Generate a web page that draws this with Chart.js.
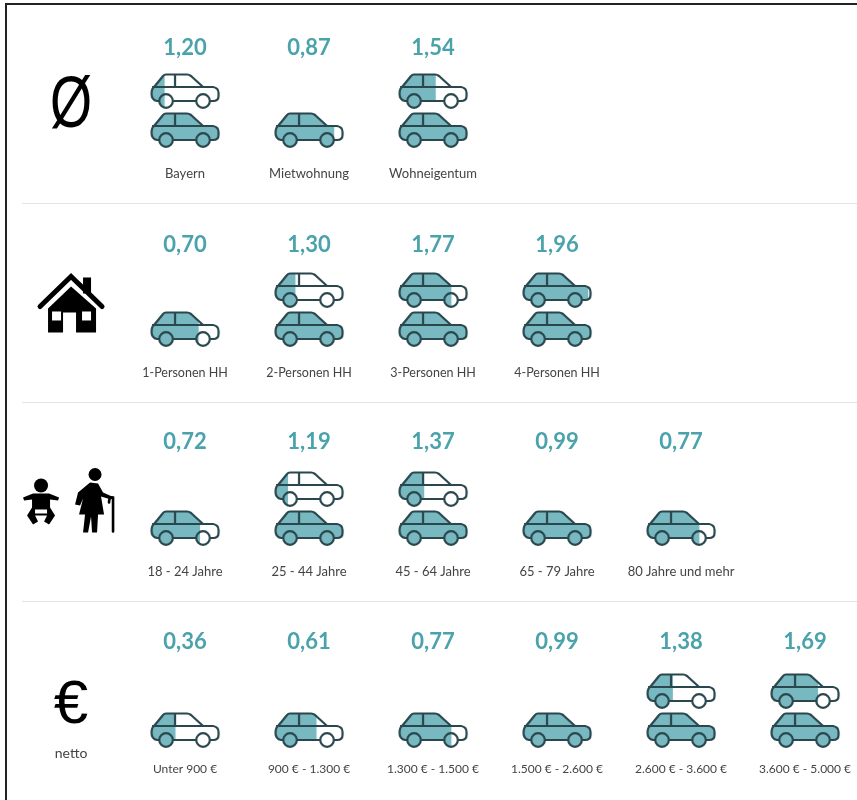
<!DOCTYPE html>
<html lang="de">
<head>
<meta charset="utf-8">
<title>Pkw je Haushalt</title>
<script src="https://cdn.jsdelivr.net/npm/chart.js@4"></script>
<style>
    html, body { margin: 0; padding: 0; background: #fff; }
    #contenedor { position: relative; width: 857px; height: 800px; overflow: hidden; }
    #graficoPkw { filter: blur(0.35px); }
    #marco { position: absolute; left: 5px; top: 3px; right: -5px; bottom: -5px; border-left: 2px solid #222; border-top: 2px solid #222; }
</style>
</head>
<body>
<div id="contenedor">
    <canvas id="graficoPkw" width="857" height="800"></canvas>
    <div id="marco"></div>
</div>
<script>
// ===================================== Datos ==================
var gruppe0Labels = ["Bayern", "Mietwohnung", "Wohneigentum"];
var gruppe0Werte = [1.20, 0.87, 1.54];

var gruppe1Labels = ["1-Personen HH", "2-Personen HH", "3-Personen HH", "4-Personen HH"];
var gruppe1Werte = [0.70, 1.30, 1.77, 1.96];

var gruppe2Labels = ["18 - 24 Jahre", "25 - 44 Jahre", "45 - 64 Jahre", "65 - 79 Jahre", "80 Jahre und mehr"];
var gruppe2Werte = [0.72, 1.19, 1.37, 0.99, 0.77];

var gruppe3Labels = ["Unter 900 €", "900 € - 1.300 €", "1.300 € - 1.500 €", "1.500 € - 2.600 €", "2.600 € - 3.600 €", "3.600 € - 5.000 €"];
var gruppe3Werte = [0.36, 0.61, 0.77, 0.99, 1.38, 1.69];

var alleLabels = [gruppe0Labels, gruppe1Labels, gruppe2Labels, gruppe3Labels];
var alleWerte = [gruppe0Werte, gruppe1Werte, gruppe2Werte, gruppe3Werte];

// ===================================== Colores y posiciones ==================
var colorRelleno = "#78b8c0";
var colorLinea = "#2a474e";
var colorValor = "#4aa3ab";
var colorTexto = "#444";

// position inside a row, in row units
var OFFSET_WERT = 0.216;
var OFFSET_AUTO_UNTEN = 0.628;
var OFFSET_AUTO_OBEN = 0.432;
var OFFSET_LABEL = 0.849;
var ICON_SPALTE = -0.919;

// the rows of the original are not perfectly regular
var ajusteWert = [0, -0.01, -0.02, -0.015];
var ajusteAuto = [0, 0, 0, 0.015];
var ajusteLabel = [0, 0, 0, -0.01];
var tamanoLabel = [13, 12.5, 13, 12];

// ===================================== Auto (pointStyle) ==================
function autoIcon(anteil) {
    var c = document.createElement("canvas");
    c.width = 74;
    c.height = 42;
    var g = c.getContext("2d");
    g.translate(3, 3);

    var karosserie = new Path2D("M0.5,21 Q0.5,15.5 3,14 L12,3 Q13,1.5 15,1.5 L36,1.5 Q38,1.5 40,3 L52,14 L62,14 Q67.5,15 67.5,20 L67.5,23 Q67.5,28 62,28 L6,28 Q0.5,27 0.5,21 Z");
    var recorte = function () {
        g.beginPath();
        g.rect(-3, -3, 3 + 68 * anteil, 48);
        g.clip();
    };

    g.save();
    recorte();
    g.fillStyle = colorRelleno;
    g.fill(karosserie);
    g.restore();

    g.lineWidth = 2.2;
    g.strokeStyle = colorLinea;
    g.lineJoin = "round";
    g.stroke(new Path2D("M8,28 L6,28 Q0.5,27 0.5,21 Q0.5,15.5 3,14 L12,3 Q13,1.5 15,1.5 L36,1.5 Q38,1.5 40,3 L52,14 L62,14 Q67.5,15 67.5,20 L67.5,23 Q67.5,28 62,28 L59,28"));
    g.stroke(new Path2D("M1,14 L52,14 M24,1.5 L24,14 M22,28 L45,28"));

    [15, 52].forEach(function (mx) {
        g.beginPath();
        g.arc(mx, 28, 6.8, 0, Math.PI * 2);
        g.fillStyle = "#fff";
        g.fill();
        g.save();
        recorte();
        g.beginPath();
        g.arc(mx, 28, 6.8, 0, Math.PI * 2);
        g.fillStyle = colorRelleno;
        g.fill();
        g.restore();
        g.beginPath();
        g.arc(mx, 28, 6.8, 0, Math.PI * 2);
        g.stroke();
    });
    return c;
}

function puntosDeGrupo(werte, fila) {
    var puntos = [];
    var y = fila + ajusteAuto[fila];
    werte.forEach(function (w, i) {
        if (w > 1) {
            puntos.push({ x: i, y: y + OFFSET_AUTO_UNTEN, anteil: 1 });
            puntos.push({ x: i, y: y + OFFSET_AUTO_OBEN, anteil: w - 1 });
        } else {
            puntos.push({ x: i, y: y + OFFSET_AUTO_UNTEN, anteil: w });
        }
    });
    return puntos;
}

// ===================================== Iconos de fila ==================
function dibujarHaus(ctx) {
    ctx.fillStyle = "#000";
    ctx.strokeStyle = "#000";
    ctx.fillRect(12, -26, 8, 16);
    ctx.beginPath();
    ctx.moveTo(-31, 3); ctx.lineTo(0, -27); ctx.lineTo(31, 3);
    ctx.lineWidth = 5;
    ctx.lineCap = "round";
    ctx.lineJoin = "miter";
    ctx.stroke();
    ctx.beginPath();
    ctx.moveTo(-23, 5); ctx.lineTo(0, -17); ctx.lineTo(25, 5);
    ctx.lineTo(25, 29); ctx.lineTo(5, 29); ctx.lineTo(5, 9);
    ctx.lineTo(-8, 9); ctx.lineTo(-8, 29); ctx.lineTo(-23, 29);
    ctx.closePath();
    ctx.fill();
    ctx.fillStyle = "#fff";
    ctx.fillRect(-19, 8, 9, 9);
    ctx.fillRect(11, 8, 9, 9);
}

function dibujarBaby(ctx) {
    ctx.fillStyle = "#000";
    ctx.beginPath();
    ctx.arc(0, -17, 7, 0, Math.PI * 2);
    ctx.fill();
    ctx.beginPath();
    ctx.moveTo(-18, -5); ctx.lineTo(-8, -9); ctx.lineTo(8, -9); ctx.lineTo(18, -5);
    ctx.lineTo(17, -2); ctx.lineTo(9, -3); ctx.lineTo(9, 5);
    ctx.lineTo(14, 13); ctx.lineTo(8, 22); ctx.lineTo(3, 19); ctx.lineTo(6, 13);
    ctx.lineTo(-6, 13); ctx.lineTo(-3, 19); ctx.lineTo(-8, 22); ctx.lineTo(-14, 13);
    ctx.lineTo(-9, 5); ctx.lineTo(-9, -3); ctx.lineTo(-17, -2);
    ctx.closePath();
    ctx.fill();
    ctx.fillStyle = "#fff";
    ctx.fillRect(-6, 7, 12, 4);
}

function dibujarSeniorin(ctx) {
    ctx.fillStyle = "#000";
    ctx.strokeStyle = "#000";
    ctx.beginPath();
    ctx.arc(0, -28, 6.5, 0, Math.PI * 2);
    ctx.fill();
    ctx.beginPath();
    ctx.moveTo(-5, -20); ctx.lineTo(3, -19); ctx.lineTo(8, -10);
    ctx.lineTo(17, -6); ctx.lineTo(16, -3); ctx.lineTo(6, -6);
    ctx.lineTo(9, 12); ctx.lineTo(3, 12); ctx.lineTo(2, 30); ctx.lineTo(-3, 30);
    ctx.lineTo(-4, 14); ctx.lineTo(-7, 30); ctx.lineTo(-12, 30); ctx.lineTo(-10, 12);
    ctx.lineTo(-16, 12); ctx.lineTo(-12, -4); ctx.lineTo(-15, 3); ctx.lineTo(-20, 2);
    ctx.lineTo(-17, -10);
    ctx.closePath();
    ctx.fill();
    ctx.lineWidth = 2.6;
    ctx.lineCap = "round";
    ctx.beginPath();
    ctx.moveTo(14, 0);
    ctx.quadraticCurveTo(14, -6, 18, -5);
    ctx.lineTo(18, 29);
    ctx.stroke();
}

// ===================================== Plugin de textos ==================
var textosPlugin = {
    id: "textos",
    afterDatasetsDraw: function (chart) {
        var ctx = chart.ctx;
        var xs = chart.scales.x;
        var ys = chart.scales.y;

        ctx.save();
        ctx.textAlign = "center";
        ctx.textBaseline = "middle";
        alleWerte.forEach(function (werte, fila) {
            werte.forEach(function (w, i) {
                ctx.font = "bold 22px Lato";
                ctx.fillStyle = colorValor;
                ctx.fillText(w.toFixed(2).replace(".", ","), xs.getPixelForValue(i), ys.getPixelForValue(fila + OFFSET_WERT + ajusteWert[fila]));
                ctx.font = tamanoLabel[fila] + "px Lato";
                ctx.fillStyle = colorTexto;
                ctx.fillText(alleLabels[fila][i], xs.getPixelForValue(i), ys.getPixelForValue(fila + OFFSET_LABEL + ajusteLabel[fila]));
            });
        });

        var ix = xs.getPixelForValue(ICON_SPALTE);

        ctx.save();
        ctx.translate(ix, ys.getPixelForValue(0.515));
        ctx.scale(0.82, 1.1);
        ctx.fillStyle = "#000";
        ctx.font = "66px 'Liberation Sans'";
        ctx.fillText("Ø", 0, 0);
        ctx.restore();

        ctx.save();
        ctx.translate(ix, ys.getPixelForValue(1.5));
        dibujarHaus(ctx);
        ctx.restore();

        ctx.save();
        ctx.translate(ix - 30, ys.getPixelForValue(2.5));
        dibujarBaby(ctx);
        ctx.restore();

        ctx.save();
        ctx.translate(ix + 24, ys.getPixelForValue(2.5));
        dibujarSeniorin(ctx);
        ctx.restore();

        ctx.fillStyle = "#000";
        ctx.font = "62px 'Liberation Sans'";
        ctx.fillText("€", ix, ys.getPixelForValue(3.52));
        ctx.font = "14px Lato";
        ctx.fillStyle = colorTexto;
        ctx.fillText("netto", ix, ys.getPixelForValue(3.76));
        ctx.restore();
    }
};

// ===================================== Gráfico ==================
new Chart(document.getElementById("graficoPkw"), {
    type: "scatter",
    data: {
        datasets: alleWerte.map(function (werte, fila) {
            return {
                data: puntosDeGrupo(werte, fila),
                pointStyle: function (ctx) {
                    return autoIcon(ctx.raw.anteil);
                },
                clip: false
            };
        })
    },
    options: {
        responsive: false,
        animation: false,
        layout: { autoPadding: false, padding: { left: 22 } },
        plugins: {
            legend: { display: false },
            tooltip: { enabled: false }
        },
        scales: {
            x: {
                display: false,
                type: "linear",
                min: -1.3145,
                max: 5.419
            },
            y: {
                type: "linear",
                reverse: true,
                min: -0.025,
                max: 3.995,
                afterBuildTicks: function (scale) {
                    scale.ticks = [{ value: 1 }, { value: 2 }, { value: 3 }];
                },
                ticks: { display: false },
                border: { display: false },
                grid: { color: "#e3e3e3", lineWidth: 1, drawTicks: false }
            }
        }
    },
    plugins: [textosPlugin]
});
</script>
</body>
</html>
